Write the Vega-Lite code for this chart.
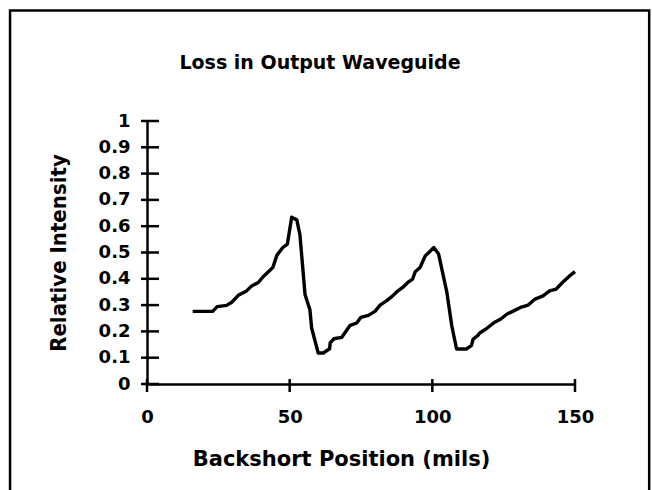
{
  "$schema": "https://vega.github.io/schema/vega-lite/v6.json",
  "autosize": "none",
  "width": 428,
  "height": 263,
  "padding": {"left": 147, "top": 121, "right": 77, "bottom": 106},
  "background": "white",
  "config": {"view": {"stroke": null}, "axis": {"grid": false, "labelOverlap": false}},
  "title": {
    "text": "Loss in Output Waveguide",
    "font": "DejaVu Sans",
    "fontSize": 19,
    "fontWeight": "bold",
    "color": "black",
    "anchor": "middle",
    "frame": "group",
    "baseline": "alphabetic",
    "dx": -41,
    "offset": -79
  },
  "datasets": {
    "curve": [
      {"x": 16.0, "y": 0.276}, {"x": 23.0, "y": 0.276}, {"x": 24.6, "y": 0.294}, {"x": 27.9, "y": 0.299},
      {"x": 29.7, "y": 0.311}, {"x": 32.0, "y": 0.337}, {"x": 34.9, "y": 0.354}, {"x": 36.7, "y": 0.373},
      {"x": 39.0, "y": 0.386}, {"x": 40.8, "y": 0.409}, {"x": 44.1, "y": 0.443}, {"x": 45.5, "y": 0.489},
      {"x": 47.6, "y": 0.519}, {"x": 49.2, "y": 0.532}, {"x": 50.7, "y": 0.634}, {"x": 52.5, "y": 0.624},
      {"x": 53.6, "y": 0.567}, {"x": 55.4, "y": 0.339}, {"x": 57.1, "y": 0.282}, {"x": 57.7, "y": 0.213},
      {"x": 60.0, "y": 0.118}, {"x": 61.8, "y": 0.118}, {"x": 64.0, "y": 0.134}, {"x": 64.2, "y": 0.156},
      {"x": 65.5, "y": 0.172}, {"x": 68.2, "y": 0.177}, {"x": 71.2, "y": 0.223}, {"x": 73.5, "y": 0.232},
      {"x": 74.9, "y": 0.253}, {"x": 77.6, "y": 0.261}, {"x": 79.9, "y": 0.276}, {"x": 81.7, "y": 0.30},
      {"x": 83.9, "y": 0.316}, {"x": 86.1, "y": 0.335}, {"x": 87.5, "y": 0.35}, {"x": 89.6, "y": 0.367},
      {"x": 91.4, "y": 0.386}, {"x": 93.1, "y": 0.399}, {"x": 94.0, "y": 0.427}, {"x": 95.7, "y": 0.443},
      {"x": 97.5, "y": 0.487}, {"x": 99.3, "y": 0.506}, {"x": 100.5, "y": 0.519}, {"x": 102.2, "y": 0.494},
      {"x": 105.1, "y": 0.348}, {"x": 106.8, "y": 0.222}, {"x": 108.5, "y": 0.133}, {"x": 111.9, "y": 0.133},
      {"x": 113.7, "y": 0.146}, {"x": 114.3, "y": 0.171}, {"x": 115.9, "y": 0.184}, {"x": 116.6, "y": 0.194},
      {"x": 118.8, "y": 0.209}, {"x": 121.7, "y": 0.234}, {"x": 124.0, "y": 0.247}, {"x": 126.2, "y": 0.266},
      {"x": 128.5, "y": 0.278}, {"x": 130.9, "y": 0.291}, {"x": 133.6, "y": 0.30}, {"x": 136.0, "y": 0.323},
      {"x": 138.8, "y": 0.335}, {"x": 141.1, "y": 0.354}, {"x": 143.4, "y": 0.361}, {"x": 145.6, "y": 0.386},
      {"x": 147.9, "y": 0.409}, {"x": 150.0, "y": 0.427}
    ],
    "yticks": [
      {"t": 0}, {"t": 0.1}, {"t": 0.2}, {"t": 0.3}, {"t": 0.4}, {"t": 0.5},
      {"t": 0.6}, {"t": 0.7}, {"t": 0.8}, {"t": 0.9}, {"t": 1}
    ],
    "xticks": [{"t": 0}, {"t": 50}, {"t": 100}, {"t": 150}]
  },
  "layer": [
    {
      "data": {"name": "curve"},
      "mark": {"type": "line", "color": "black", "strokeWidth": 3.4, "strokeJoin": "round", "clip": false},
      "encoding": {
        "x": {
          "field": "x",
          "type": "quantitative",
          "scale": {"domain": [0, 150], "nice": false, "zero": false},
          "axis": {
            "title": "Backshort Position (mils)",
            "values": [0, 50, 100, 150],
            "format": "d",
            "domainColor": "black",
            "domainWidth": 2.5,
            "ticks": false,
            "tickSize": 0,
            "labelPadding": 24,
            "labelFont": "DejaVu Sans",
            "labelFontSize": 18,
            "labelFontWeight": "bold",
            "labelColor": "black",
            "labelFlush": false,
            "labelOverlap": false,
            "titleFont": "DejaVu Sans",
            "titleFontSize": 21,
            "titleFontWeight": "bold",
            "titleColor": "black",
            "titlePadding": 22,
            "titleX": 194
          }
        },
        "y": {
          "field": "y",
          "type": "quantitative",
          "scale": {"domain": [0, 1], "nice": false},
          "axis": {
            "title": "Relative Intensity",
            "values": [0, 0.1, 0.2, 0.3, 0.4, 0.5, 0.6, 0.7, 0.8, 0.9, 1],
            "tickCount": 11,
            "format": "~g",
            "domainColor": "black",
            "domainWidth": 2.5,
            "ticks": false,
            "tickSize": 0,
            "labelPadding": 17,
            "labelFont": "DejaVu Sans",
            "labelFontSize": 18,
            "labelFontWeight": "bold",
            "labelColor": "black",
            "labelFlush": false,
            "labelOverlap": false,
            "titleFont": "DejaVu Sans Condensed",
            "titleFontSize": 22,
            "titleFontWeight": "bold",
            "titleColor": "black",
            "titlePadding": 28
          }
        }
      }
    },
    {
      "data": {"name": "yticks"},
      "mark": {"type": "tick", "orient": "horizontal", "size": 18, "thickness": 2.5, "xOffset": 3, "color": "black", "opacity": 1},
      "encoding": {
        "x": {"datum": 0, "type": "quantitative"},
        "y": {"field": "t", "type": "quantitative"}
      }
    },
    {
      "data": {"name": "xticks"},
      "mark": {"type": "tick", "orient": "vertical", "size": 13, "thickness": 2.5, "yOffset": 1.5, "color": "black", "opacity": 1},
      "encoding": {
        "x": {"field": "t", "type": "quantitative"},
        "y": {"datum": 0, "type": "quantitative"}
      }
    },
    {
      "data": {"values": [{}]},
      "mark": {"type": "rect", "fillOpacity": 0, "stroke": "black", "strokeWidth": 2.5, "clip": false},
      "encoding": {
        "x": {"datum": -48.0, "type": "quantitative"},
        "x2": {"datum": 176.0},
        "y": {"datum": 1.42, "type": "quantitative"},
        "y2": {"datum": -0.5}
      }
    }
  ]
}
